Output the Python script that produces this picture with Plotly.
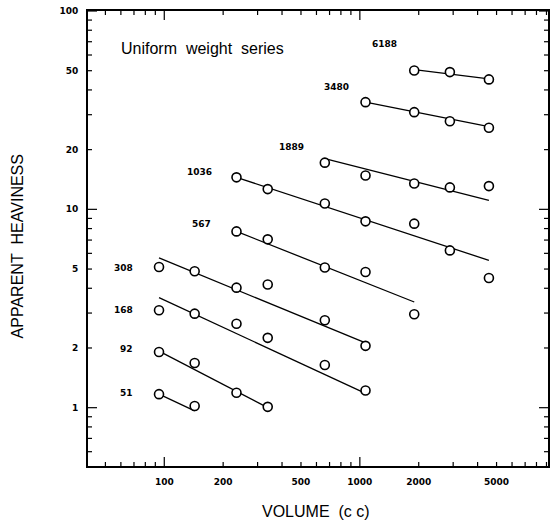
import math
import plotly.graph_objects as go

# ---------------- data ----------------
volumes = [94, 143, 234, 338, 662, 1069, 1897, 2886, 4570]          # cc, column positions

weight_labels = ["51", "92", "168", "308", "567", "1036", "1889", "3480", "6188"]
first_column = [0, 0, 0, 0, 2, 2, 4, 5, 6]                            # index into volumes

h_51 = [1.17, 1.02]
h_92 = [1.91, 1.68, 1.19, 1.01]
h_168 = [3.10, 2.98, 2.65, 2.25, 1.64, 1.22]
h_308 = [5.12, 4.87, 4.03, 4.18, 2.76, 2.05]
h_567 = [7.74, 7.06, 5.09, 4.83, 2.96]
h_1036 = [14.5, 12.65, 10.7, 8.70, 8.47, 6.21, 4.51]
h_1889 = [17.2, 14.8, 13.5, 12.9, 13.1]
h_3480 = [34.7, 30.9, 27.8, 25.8]
h_6188 = [50.1, 49.2, 45.2]

# fitted line values at the first and last volume of each series
fit_51 = [1.17, 0.963]
fit_92 = [1.93, 1.00]
fit_168 = [3.59, 1.18]
fit_308 = [5.69, 2.12]
fit_567 = [7.74, 3.41]
fit_1036 = [14.5, 5.53]
fit_1889 = [18.0, 11.1]
fit_3480 = [34.7, 26.1]
fit_6188 = [50.6, 45.5]

heaviness = [h_51, h_92, h_168, h_308, h_567, h_1036, h_1889, h_3480, h_6188]
fits = [fit_51, fit_92, fit_168, fit_308, fit_567, fit_1036, fit_1889, fit_3480, fit_6188]

x_label_vals = [100, 200, 500, 1000, 2000, 5000]
x_label_text = ["100", "200", "500", "1000", "2000", "5000"]
y_label_vals = [1, 2, 5, 10, 20, 50, 100]
y_label_text = ["1", "2", "5", "10", "20", "50", "100"]

# tick-mark positions: short ticks at every integer multiple, long ticks at decades
x_short = [50, 60, 70, 80, 90, 200, 300, 400, 500, 600, 700, 800, 900,
           2000, 3000, 4000, 5000, 6000, 7000, 8000, 9000]
x_long = [100, 1000]
y_short = [0.6, 0.7, 0.8, 0.9, 2, 3, 4, 5, 6, 7, 8, 9,
           20, 30, 40, 50, 60, 70, 80, 90]
y_long = [1, 10, 100]

# ---------------- styling / placement ----------------
label_xshift = [-24, -24, -24, -24, -23, -22, -19, -15, -15]
label_yshift = [1, 3, 0, -1, 7, 5, 16, 15, 27]

x_range = [1.610, 3.962]
y_range = [-0.294, 2.0]
SHORT, LONG = 4, 9

fig = go.Figure()

for k, vals in enumerate(heaviness):
    xs = volumes[first_column[k]:first_column[k] + len(vals)]
    fig.add_trace(go.Scatter(
        x=[xs[0], xs[-1]], y=fits[k], mode="lines",
        line=dict(color="black", width=1.3), showlegend=False, hoverinfo="skip"))

for k, vals in enumerate(heaviness):
    xs = volumes[first_column[k]:first_column[k] + len(vals)]
    fig.add_trace(go.Scatter(
        x=xs, y=vals, mode="markers",
        marker=dict(symbol="circle", size=9, color="white",
                    line=dict(color="black", width=1.6)),
        showlegend=False))

tickfont = dict(family="DejaVu Sans", size=9, color="black", weight="bold")

for k, lab in enumerate(weight_labels):
    x0 = volumes[first_column[k]]
    y0 = heaviness[k][0]
    fig.add_annotation(x=math.log10(x0), y=math.log10(y0), xref="x", yref="y",
                       text=lab, showarrow=False, xanchor="right", yanchor="middle",
                       xshift=label_xshift[k], yshift=label_yshift[k],
                       font=tickfont)

fig.add_annotation(x=0.068, y=0.918, xref="paper", yref="paper",
                   text="Uniform\u00a0 weight\u00a0 series", showarrow=False,
                   xanchor="left", yanchor="middle",
                   font=dict(family="Liberation Sans", size=16, color="black"))

fig.add_annotation(x=-0.154, y=0.483, xref="paper", yref="paper",
                   text="APPARENT\u00a0 HEAVINESS", textangle=-90, showarrow=False,
                   xanchor="center", yanchor="middle",
                   font=dict(family="Liberation Sans", size=16, color="black"))

fig.add_annotation(x=0.496, y=-0.099, xref="paper", yref="paper",
                   text="VOLUME\u00a0 (c c)", showarrow=False,
                   xanchor="center", yanchor="middle",
                   font=dict(family="Liberation Sans", size=16, color="black"))


# inside tick marks on all four sides, placed from the tick lists via the axis ranges
def frac(v, rng):
    return (math.log10(v) - rng[0]) / (rng[1] - rng[0])


tick_line = dict(color="black", width=1.2)
for vals, length in ((x_short, SHORT), (x_long, LONG)):
    for v in vals:
        f = frac(v, x_range)
        for anchor, sign in ((0, 1), (1, -1)):
            fig.add_shape(type="line", xref="x domain", yref="y domain",
                          x0=f, x1=f, ysizemode="pixel", yanchor=anchor,
                          y0=0, y1=sign * length, line=tick_line)
for vals, length in ((y_short, SHORT), (y_long, LONG)):
    for v in vals:
        f = frac(v, y_range)
        for anchor, sign in ((0, 1), (1, -1)):
            fig.add_shape(type="line", xref="x domain", yref="y domain",
                          y0=f, y1=f, xsizemode="pixel", xanchor=anchor,
                          x0=0, x1=sign * length, line=tick_line)

fig.update_layout(
    template="none",
    width=553, height=522,
    margin=dict(l=88, r=5, t=11, b=56),
    paper_bgcolor="white", plot_bgcolor="white",
    xaxis=dict(type="log", range=x_range, showline=True, linecolor="black", linewidth=2,
               mirror=True, ticks="", showgrid=False, zeroline=False, tickmode="array",
               tickvals=x_label_vals, ticktext=x_label_text, tickfont=tickfont,
               ticklabelstandoff=6),
    yaxis=dict(type="log", range=y_range, showline=True, linecolor="black", linewidth=2,
               mirror=True, ticks="", showgrid=False, zeroline=False, tickmode="array",
               tickvals=y_label_vals, ticktext=y_label_text, tickfont=tickfont,
               ticklabelstandoff=6),
)

fig.write_html("out.html", config={"displayModeBar": False},
               post_script="document.body.style.margin='0px';")
